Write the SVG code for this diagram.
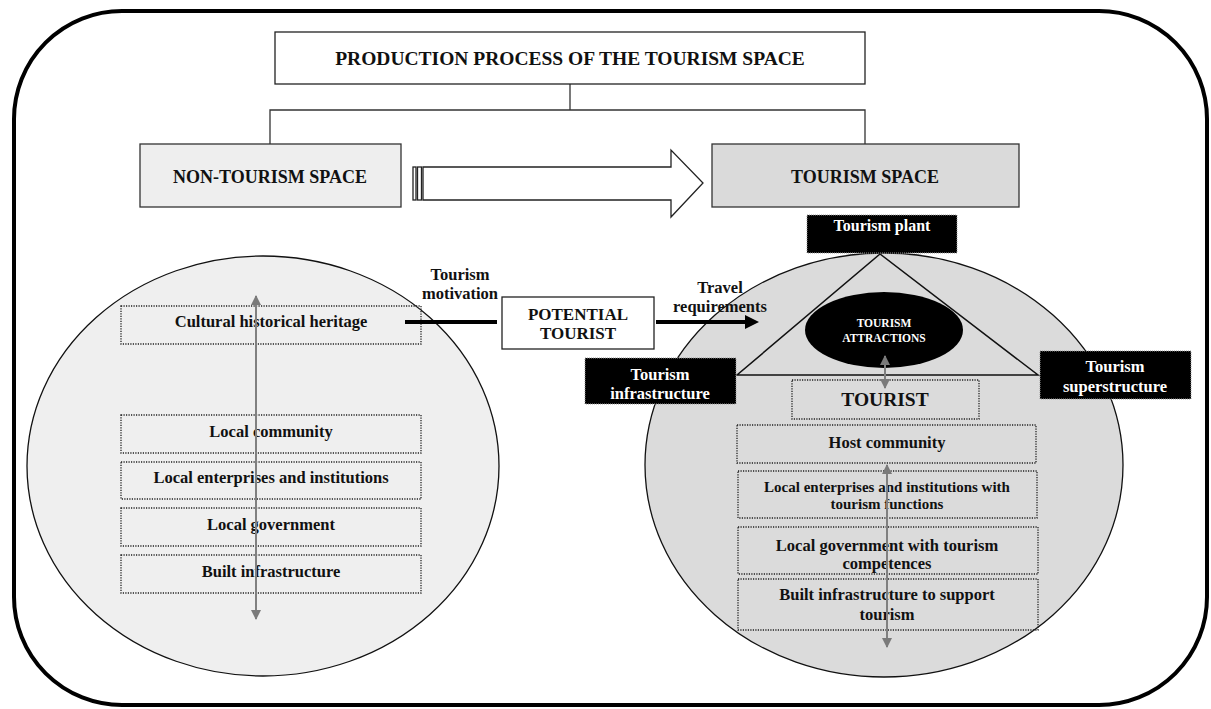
<svg xmlns="http://www.w3.org/2000/svg" width="1211" height="709" viewBox="0 0 1211 709">
<style>
text{font-family:"Liberation Serif","Times New Roman",serif;font-weight:bold;text-anchor:middle;fill:#111}
.w{fill:#fff}
.box{fill:#fff;stroke:#222;stroke-width:1.3}
.dot{fill:none;stroke:#222;stroke-width:1.3;stroke-dasharray:1.2 1.3}
.blk{fill:#000;stroke:#999;stroke-width:1;stroke-dasharray:1 1}
.t16{font-size:16.5px}
.conn{fill:none;stroke:#333;stroke-width:1.3}
.gray{stroke:#808080;stroke-width:2;fill:none}
</style>
<defs>
<marker id="ga" viewBox="0 0 10 10" refX="9" refY="5" markerWidth="5" markerHeight="5" orient="auto-start-reverse">
<path d="M0,0 L10,5 L0,10 Z" fill="#7a7a7a"/>
</marker>
</defs>
<rect id="frame" x="14" y="11" width="1193" height="694" rx="108" ry="108" fill="#fff" stroke="#000" stroke-width="4"/>

<g id="connectors">
<path class="conn" d="M570,84 V110 M270,144 V110 H865 V144"/>
</g>

<g id="title"><rect class="box" x="275" y="32" width="590" height="52"/>
<text x="570" y="65" font-size="19.5">PRODUCTION PROCESS OF THE TOURISM SPACE</text></g>

<g id="non-tourism-space"><rect x="140" y="144" width="261" height="63" fill="#eeeeee" stroke="#333" stroke-width="1.3"/>
<text x="270" y="183" font-size="18">NON-TOURISM SPACE</text></g>

<g id="tourism-space"><rect x="712" y="144" width="307" height="63" fill="#dadada" stroke="#333" stroke-width="1.3"/>
<text x="865" y="183" font-size="18">TOURISM SPACE</text></g>

<g id="big-arrow" fill="#fff" stroke="#222" stroke-width="1.3">
<rect x="413" y="167" width="3" height="33"/>
<rect x="417.5" y="167" width="4" height="33"/>
<path d="M423,167 H671 V150 L703,183 L671,217 V200 H423 Z"/>
</g>

<g id="left-space">
<ellipse cx="263" cy="466" rx="236" ry="210" fill="#efefef" stroke="#111" stroke-width="1.3"/>
</g>
<g id="right-space">
<ellipse cx="884" cy="465" rx="239" ry="212" fill="#dbdbdb" stroke="#111" stroke-width="1.3"/>
<path d="M880,254 L737,375 H1038 Z" fill="none" stroke="#111" stroke-width="1.5"/>
</g>

<g id="cultural"><rect class="dot" x="121" y="306" width="300" height="38"/><text class="t16" x="271" y="327">Cultural historical heritage</text></g>
<g id="local-community"><rect class="dot" x="121" y="415" width="300" height="38"/><text class="t16" x="271" y="437">Local community</text></g>
<g id="local-enterprises"><rect class="dot" x="121" y="462" width="300" height="37"/><text class="t16" x="271" y="483">Local enterprises and institutions</text></g>
<g id="local-government"><rect class="dot" x="121" y="508" width="300" height="38"/><text class="t16" x="271" y="530">Local government</text></g>
<g id="built-infrastructure"><rect class="dot" x="121" y="555" width="300" height="38"/><text class="t16" x="271" y="577">Built infrastructure</text></g>

<g id="potential-tourist"><rect class="box" x="502" y="297" width="152" height="52"/>
<text x="578" y="320" font-size="17">POTENTIAL</text><text x="578" y="339" font-size="17">TOURIST</text></g>

<g id="labels">
<text class="t16" x="460" y="280">Tourism</text><text class="t16" x="460" y="299">motivation</text>
<text class="t16" x="720" y="293">Travel</text><text class="t16" x="720" y="312">requirements</text>
</g>

<g id="tourism-plant"><rect class="blk" x="807" y="215" width="150" height="38"/><text class="w" x="882" y="231" font-size="16">Tourism plant</text></g>
<g id="tourism-infrastructure"><rect class="blk" x="585" y="358" width="151" height="46"/><text class="w t16" x="660" y="380">Tourism</text><text class="w t16" x="660" y="399">infrastructure</text></g>
<g id="tourism-superstructure"><rect class="blk" x="1040" y="351" width="151" height="48"/><text class="w t16" x="1115" y="372">Tourism</text><text class="w t16" x="1115" y="392">superstructure</text></g>

<g id="tourism-attractions"><ellipse cx="884" cy="330" rx="79" ry="38" fill="#000"/>
<text class="w" x="884" y="327" font-size="11.5">TOURISM</text><text class="w" x="884" y="342" font-size="11.5">ATTRACTIONS</text></g>

<g id="tourist"><rect class="dot" x="792" y="380" width="187" height="39"/><text x="885" y="406" font-size="19.5">TOURIST</text></g>
<g id="host-community"><rect class="dot" x="737" y="425" width="299" height="38"/><text class="t16" x="887" y="448">Host community</text></g>
<g id="enterprises-tourism"><rect class="dot" x="738" y="471" width="299" height="47"/><text x="887" y="492" font-size="15">Local enterprises and institutions with</text><text x="887" y="509" font-size="15">tourism functions</text></g>
<g id="government-tourism"><rect class="dot" x="738" y="527" width="300" height="47"/><text class="t16" x="887" y="551">Local government with tourism</text><text class="t16" x="887" y="569">competences</text></g>
<g id="infrastructure-tourism"><rect class="dot" x="738" y="579" width="300" height="51"/><text class="t16" x="887" y="600">Built infrastructure to support</text><text class="t16" x="887" y="620">tourism</text></g>

<g id="flow-arrows">
<line x1="405" y1="322" x2="497" y2="322" stroke="#000" stroke-width="4"/>
<line x1="656" y1="322" x2="746" y2="322" stroke="#000" stroke-width="4"/>
<path d="M745,315 L759,322 L745,329 Z" fill="#000"/>
<line class="gray" x1="256" y1="296" x2="256" y2="619" marker-start="url(#ga)" marker-end="url(#ga)"/>
<line class="gray" x1="885" y1="356" x2="885" y2="388" marker-start="url(#ga)" marker-end="url(#ga)"/>
<line class="gray" x1="887" y1="465" x2="887" y2="647" marker-start="url(#ga)" marker-end="url(#ga)"/>
</g>
</svg>
